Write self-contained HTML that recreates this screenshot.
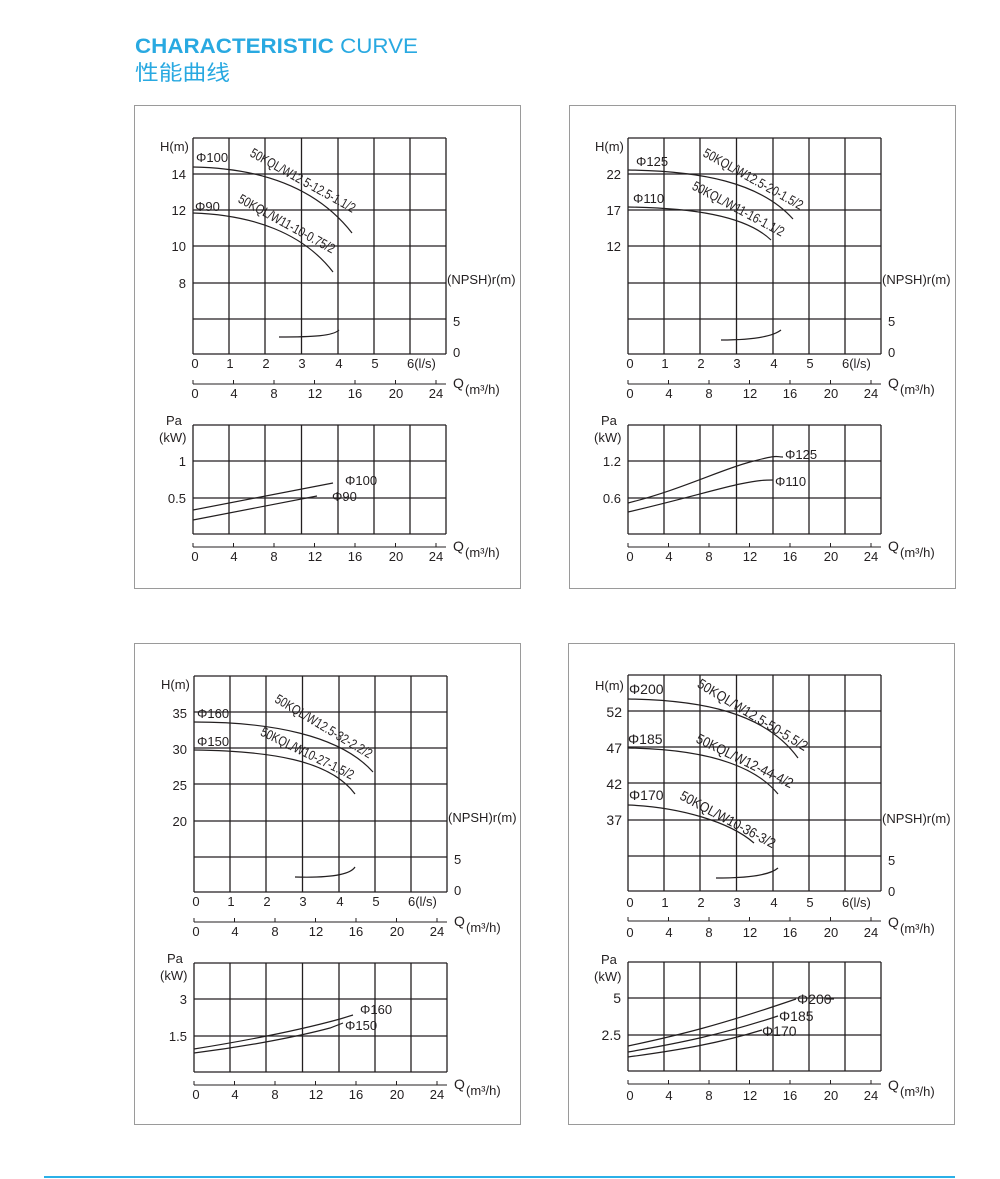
<!DOCTYPE html>
<html><head><meta charset="utf-8"><style>
html,body{margin:0;padding:0;background:#fff;}
svg{display:block;}
text{font-family:"Liberation Sans","Noto Sans CJK SC",sans-serif;fill:#231f20;}
</style></head><body>
<svg width="1000" height="1179" viewBox="0 0 1000 1179" xmlns="http://www.w3.org/2000/svg">
<defs>
<g id="grid" stroke="#231f20" stroke-width="1.3" fill="none">
<path d="M0,0V216M36,0V216M72,0V216M108.5,0V216M145,0V216M181,0V216M217,0V216M253,0V216"/>
<path d="M0,0H253M0,36H253M0,72H253M0,108H253M0,145H253M0,181H253M0,216H253"/>
<path d="M0,287V396M36,287V396M72,287V396M108.5,287V396M145,287V396M181,287V396M217,287V396M253,287V396"/>
<path d="M0,287H253M0,323H253M0,360H253M0,396H253"/>
<path d="M0,246H253M0,242V246M40.5,242V246M81,242V246M121.5,242V246M162,242V246M202.5,242V246M243,242V246" stroke-width="1"/>
<path d="M0,409H253M0,405V409M40.5,405V409M81,405V409M121.5,405V409M162,405V409M202.5,405V409M243,405V409" stroke-width="1"/>
</g>
<g id="xl" font-size="13" text-anchor="middle">
<text x="2" y="230">0</text><text x="37" y="230">1</text><text x="73" y="230">2</text><text x="109" y="230">3</text><text x="146" y="230">4</text><text x="182" y="230">5</text><text x="214" y="230" text-anchor="start">6(l/s)</text>
<text x="2" y="260">0</text><text x="41" y="260">4</text><text x="81" y="260">8</text><text x="122" y="260">12</text><text x="162" y="260">16</text><text x="203" y="260">20</text><text x="243" y="260">24</text>
<text x="2" y="423">0</text><text x="41" y="423">4</text><text x="81" y="423">8</text><text x="122" y="423">12</text><text x="162" y="423">16</text><text x="203" y="423">20</text><text x="243" y="423">24</text>
<text x="260" y="250" text-anchor="start" font-size="14">Q</text><text x="272" y="256" text-anchor="start" font-size="13">(m³/h)</text>
<text x="260" y="413" text-anchor="start" font-size="14">Q</text><text x="272" y="419" text-anchor="start" font-size="13">(m³/h)</text>
<text x="254" y="146" text-anchor="start">(NPSH)r(m)</text>
<text x="260" y="188" text-anchor="start">5</text><text x="260" y="219" text-anchor="start">0</text>
<text x="-33" y="13" text-anchor="start">H(m)</text>
<text x="-27" y="287" text-anchor="start">Pa</text><text x="-34" y="304" text-anchor="start">(kW)</text>
</g>
</defs>

<text x="135" y="53" font-size="21" style="fill:#29a9e1" textLength="283" lengthAdjust="spacingAndGlyphs"><tspan font-weight="bold">CHARACTERISTIC</tspan> CURVE</text>
<text x="135" y="80" font-size="21" style="fill:#29a9e1" textLength="95" lengthAdjust="spacingAndGlyphs">性能曲线</text>

<g fill="none" stroke="#9a9a9a" stroke-width="1">
<rect x="134.5" y="105.5" width="386" height="483"/>
<rect x="569.5" y="105.5" width="386" height="483"/>
<rect x="134.5" y="643.5" width="386" height="481"/>
<rect x="568.5" y="643.5" width="386" height="481"/>
</g>
<line x1="44" y1="1177" x2="955" y2="1177" stroke="#2bb0e8" stroke-width="2"/>

<!-- Top-left -->
<g transform="translate(193,138)">
<use href="#grid"/><use href="#xl"/>
<g font-size="13" text-anchor="end">
<text x="-7" y="41">14</text><text x="-7" y="77">12</text><text x="-7" y="113">10</text><text x="-7" y="150">8</text>
<text x="-7" y="328">1</text><text x="-7" y="365">0.5</text>
</g>
</g>
<g fill="none" stroke="#231f20" stroke-width="1.2">
<path d="M193,167 C253,168 313,183 352,233"/>
<path d="M193,213 C253,215 303,233 333,272"/>
<path d="M279,337 C313,337 333,336 339,330"/>
<path d="M193,510 L333,483"/>
<path d="M193,520 L317,496"/>
</g>
<g font-size="13">
<text x="196" y="162">Φ100</text><text x="195" y="211">Φ90</text>
<text x="345" y="485">Φ100</text><text x="332" y="501">Φ90</text>
<text transform="translate(254,147) rotate(29)" dy="10" font-size="13.5" textLength="118" lengthAdjust="spacingAndGlyphs">50KQL/W12.5-12.5-1.1/2</text>
<text transform="translate(242,193) rotate(28.7)" dy="10" font-size="13.5" textLength="108" lengthAdjust="spacingAndGlyphs">50KQL/W11-10-0.75/2</text>
</g>

<!-- Top-right -->
<g transform="translate(628,138)">
<use href="#grid"/><use href="#xl"/>
<g font-size="13" text-anchor="end">
<text x="-7" y="41">22</text><text x="-7" y="77">17</text><text x="-7" y="113">12</text>
<text x="-7" y="328">1.2</text><text x="-7" y="365">0.6</text>
</g>
</g>
<g fill="none" stroke="#231f20" stroke-width="1.2">
<path d="M628,170 C700,171 760,182 793,219"/>
<path d="M628,207 C690,208 745,215 771,240"/>
<path d="M721,340 C750,340 772,337 781,330"/>
<path d="M628,503 C680,490 720,470 750,462 S775,457 783,457"/>
<path d="M628,512 C680,500 720,488 740,484 S765,480 773,480"/>
</g>
<g font-size="13">
<text x="636" y="166">Φ125</text><text x="633" y="203">Φ110</text>
<text x="785" y="459">Φ125</text><text x="775" y="486">Φ110</text>
<text transform="translate(707,147) rotate(29)" dy="10" font-size="13.5" textLength="112" lengthAdjust="spacingAndGlyphs">50KQL/W12.5-20-1.5/2</text>
<text transform="translate(696,180) rotate(28)" dy="10" font-size="13.5" textLength="102" lengthAdjust="spacingAndGlyphs">50KQL/W11-16-1.1/2</text>
</g>

<!-- Bottom-left -->
<g transform="translate(194,676)">
<use href="#grid"/><use href="#xl"/>
<g font-size="13" text-anchor="end">
<text x="-7" y="42">35</text><text x="-7" y="78">30</text><text x="-7" y="114">25</text><text x="-7" y="150">20</text>
<text x="-7" y="328">3</text><text x="-7" y="365">1.5</text>
</g>
</g>
<g fill="none" stroke="#231f20" stroke-width="1.2">
<path d="M194,722 C270,722 340,735 373,772"/>
<path d="M194,750 C270,751 330,760 355,794"/>
<path d="M295,877 C330,878 350,875 355,867"/>
<path d="M194,1049 C250,1040 300,1030 340,1019 L353,1015"/>
<path d="M194,1053 C250,1046 300,1036 330,1028 L343,1023"/>
</g>
<g font-size="13">
<text x="197" y="718">Φ160</text><text x="197" y="746">Φ150</text>
<text x="360" y="1014">Φ160</text><text x="345" y="1030">Φ150</text>
<text transform="translate(279,693) rotate(31)" dy="10" font-size="13.5" textLength="111" lengthAdjust="spacingAndGlyphs">50KQL/W12.5-32-2.2/2</text>
<text transform="translate(264,726) rotate(26)" dy="10" font-size="13.5" textLength="102" lengthAdjust="spacingAndGlyphs">50KQL/W10-27-1.5/2</text>
</g>

<!-- Bottom-right -->
<g transform="translate(628,675)">
<use href="#grid"/><use href="#xl" transform="translate(0,2)"/>
<g font-size="14" text-anchor="end">
<text x="-6" y="42">52</text><text x="-6" y="78">47</text><text x="-6" y="114">42</text><text x="-6" y="150">37</text>
<text x="-7" y="328">5</text><text x="-7" y="365">2.5</text>
</g>
</g>
<g fill="none" stroke="#231f20" stroke-width="1.2">
<path d="M628,699 C700,700 765,712 798,758"/>
<path d="M628,748 C690,749 750,760 778,794"/>
<path d="M628,805 C680,807 730,822 754,843"/>
<path d="M716,878 C750,878 770,875 778,868"/>
<path d="M628,1046 C680,1035 720,1025 796,999"/>
<path d="M628,1052 C680,1043 720,1035 778,1016"/>
<path d="M628,1057 C680,1050 720,1043 762,1030"/>
<path d="M826,999 H834" />
</g>
<g font-size="14">
<text x="629" y="694">Φ200</text><text x="628" y="744">Φ185</text><text x="629" y="800">Φ170</text>
<text x="797" y="1004">Φ200</text><text x="779" y="1021">Φ185</text><text x="762" y="1036">Φ170</text>
<text transform="translate(702,677) rotate(31)" dy="11" font-size="14" textLength="126" lengthAdjust="spacingAndGlyphs">50KQL/W12.5-50-5.5/2</text>
<text transform="translate(700,732) rotate(26)" dy="11" font-size="14" textLength="106" lengthAdjust="spacingAndGlyphs">50KQL/W12-44-4/2</text>
<text transform="translate(684,789) rotate(28)" dy="11" font-size="14" textLength="106" lengthAdjust="spacingAndGlyphs">50KQL/W10-36-3/2</text>
</g>
</svg>
</body></html>
